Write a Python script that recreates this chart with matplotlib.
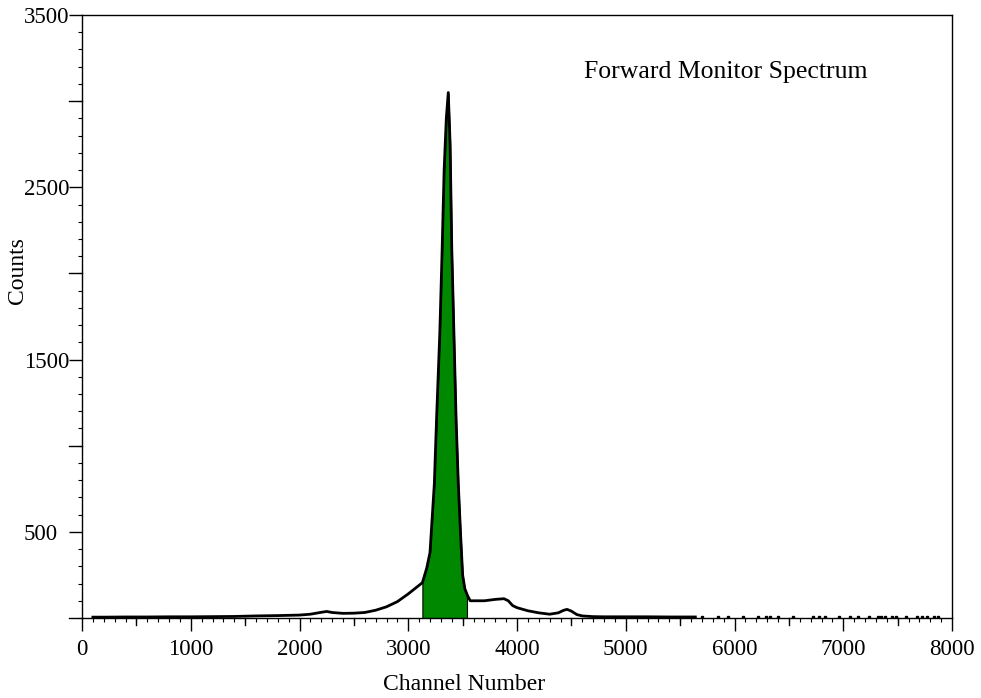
import numpy as np
import matplotlib
matplotlib.use("Agg")
import matplotlib.pyplot as plt
from matplotlib.ticker import MultipleLocator, FixedLocator

plt.rcParams['font.family'] = ['Liberation Serif', 'DejaVu Serif']

# spectrum (channel, counts)
channel = [100, 200, 400, 600, 800, 1000, 1200, 1400, 1600, 1800, 2000, 2100,
           2200, 2250, 2300, 2400, 2500, 2600, 2700, 2800, 2900, 3000, 3050,
           3100, 3130, 3170, 3200, 3240, 3260, 3290, 3310, 3330, 3350, 3368,
           3385, 3400, 3420, 3440, 3460, 3480, 3500, 3520, 3545, 3570, 3600,
           3700, 3800, 3880, 3920, 3960, 4000, 4100, 4200, 4300, 4380, 4430,
           4460, 4500, 4550, 4600, 4700, 4800, 5000, 5200, 5400, 5640]
counts = [5, 5, 6, 6, 7, 7, 8, 9, 12, 14, 17, 22,
          33, 38, 32, 27, 28, 32, 45, 65, 95, 140, 165,
          190, 205, 290, 380, 780, 1150, 1650, 2100, 2600, 2900, 3050,
          2750, 2150, 1650, 1150, 780, 500, 250, 170, 130, 100, 100,
          100, 108, 112, 100, 72, 60, 42, 30, 22, 30, 45,
          50, 40, 20, 12, 8, 7, 7, 7, 6, 6]

# isolated counts in the sparse tail
tail_channel = [5700, 5850, 5940, 6080, 6220, 6290, 6330, 6400, 6540, 6720,
                6780, 6830, 6960, 7060, 7135, 7240, 7320, 7350, 7385, 7450,
                7485, 7580, 7680, 7720, 7770, 7830, 7870]
tail_counts = [3] * len(tail_channel)

# integrated peak window
peak_lo, peak_hi = 3130, 3540

x = np.array(channel)
y = np.array(counts)

fig = plt.figure(figsize=(9.81, 6.98), dpi=100)
ax = fig.add_axes([82 / 981, 1 - 618 / 698, 870 / 981, 603 / 698])

mask = (x >= peak_lo) & (x <= peak_hi)
px = np.concatenate([[peak_lo], x[mask], [peak_hi]])
py = np.interp(px, x, y)
ax.fill_between(px, 0, py, color='#008800', edgecolor='black', linewidth=0.8, zorder=2)
ax.plot(x, y, color='black', linewidth=2.0, zorder=3)
ax.plot(tail_channel, tail_counts, linestyle='none', marker='s', markersize=1.5,
        color='black', zorder=3)

ax.set_xlim(0, 8000)
ax.set_ylim(0, 3500)

ax.xaxis.set_major_locator(MultipleLocator(1000))
ax.xaxis.set_minor_locator(MultipleLocator(100))
ax.yaxis.set_major_locator(FixedLocator([500, 1500, 2500, 3500]))
ax.yaxis.set_minor_locator(MultipleLocator(100))
ax.tick_params(axis='both', which='major', direction='out', length=9.3, width=1,
               labelsize=16.5)
ax.tick_params(axis='both', which='minor', direction='out', length=3, width=0.8)
ax.tick_params(axis='x', which='major', pad=6)
ax.tick_params(axis='y', which='major', pad=32.5)
for lab in ax.get_yticklabels():
    lab.set_horizontalalignment('left')

# unlabeled medium ticks
for v in [0, 1000, 2000, 3000]:
    ax.plot([0, -0.0148], [v, v], transform=ax.get_yaxis_transform(),
            color='black', linewidth=1, clip_on=False)
for v in range(500, 8000, 1000):
    ax.plot([v, v], [0, -0.012], transform=ax.get_xaxis_transform(),
            color='black', linewidth=1, clip_on=False)

for s in ax.spines.values():
    s.set_linewidth(1)

ax.text(0.577, 0.905, 'Forward Monitor Spectrum', transform=ax.transAxes,
        ha='left', va='center', fontsize=18.5)
ax.text(0.439, -0.111, 'Channel Number', transform=ax.transAxes,
        ha='center', va='center', fontsize=17)
ax.text(-0.0736, 0.577, 'Counts', transform=ax.transAxes, rotation=90,
        ha='center', va='center', fontsize=17)

fig.savefig('out.png', dpi=100)
